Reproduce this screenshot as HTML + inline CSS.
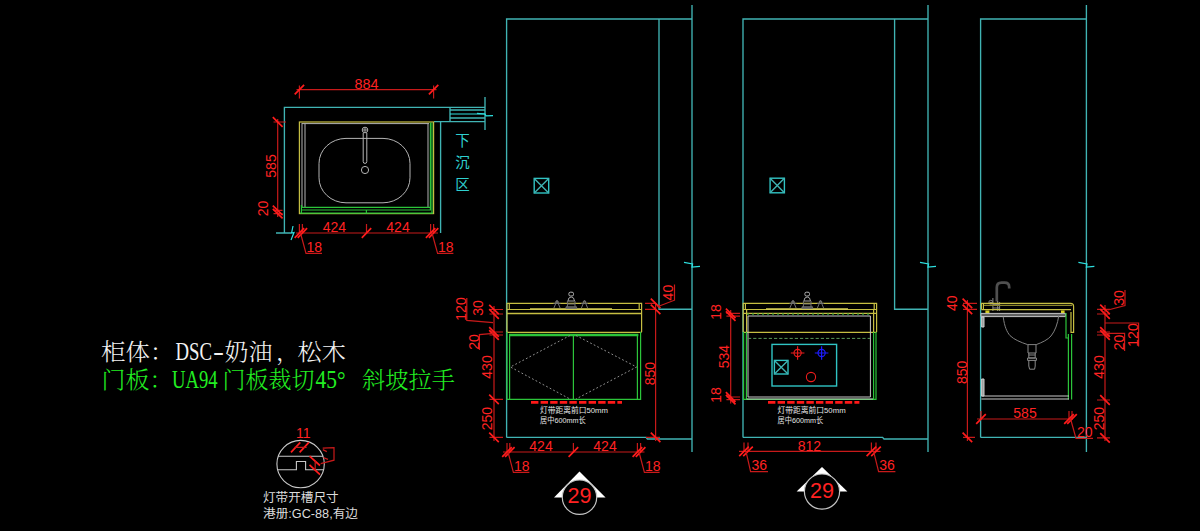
<!DOCTYPE html>
<html lang="zh">
<head>
<meta charset="utf-8">
<title>浴室柜图纸</title>
<style>
html,body{margin:0;padding:0;background:#000;}
body{width:1200px;height:531px;overflow:hidden;}
svg{display:block;width:1200px;height:531px;}
.c{stroke:#40b4b4;stroke-width:1.35;fill:none;}
.cb{stroke:#2ee0e0;stroke-width:1.2;fill:none;}
.c2{stroke:#30c4c4;stroke-width:1.4;fill:none;}
.r{stroke:#c81a1a;stroke-width:1.2;fill:none;}
.rs{stroke:#ff1c1c;stroke-width:1.7;fill:none;}
.y{stroke:#c6be42;stroke-width:1.2;fill:none;}
.g{stroke:#2cc43a;stroke-width:1.2;fill:none;}
.w{stroke:#b4b4b4;stroke-width:1;fill:none;}
.dg{stroke:#6c6c6c;stroke-width:1;fill:none;}
.d{font-family:"Liberation Sans",sans-serif;font-size:14px;fill:#ff2222;}
.n{font-family:"Liberation Sans","Noto Sans CJK SC",sans-serif;font-size:7.6px;fill:#e4e4e4;}
.s{font-family:"Liberation Serif","Noto Serif CJK SC",serif;font-size:23px;font-weight:300;}
.k{font-family:"Liberation Sans","Noto Sans CJK SC",sans-serif;}
</style>
</head>
<body>
<svg width="1200" height="531" viewBox="0 0 1200 531">
<rect x="0" y="0" width="1200" height="531" fill="#000"/>

<!-- ============ PLAN VIEW (top-left) ============ -->
<g id="plan">
  <path class="c" d="M284.4,233 V107.4 H485"/>
  <path class="c" d="M450,110 H485 M450,118 H485 M434,121.6 H485 M450,107.4 V121.6 M485,97 V130 M440.6,121.6 V233 M276,233 H291"/>
  <path class="cb" d="M450,114 H485"/>
  <path class="cb" d="M477,113.4 L485,114 L486,115.8 L493,115.6"/>
  <path class="cb" d="M293,226 L291.6,233 L294,232.6 L291,240"/>
  <!-- counter -->
  <rect class="y" x="299.4" y="122" width="134.2" height="91.6"/>
  <path class="w" d="M302,123.6 H429 M302,123 V207 M305,123.6 V207 M428,123.6 V207"/>
  <path class="g" d="M430.4,122.5 V210 M432,122.5 V213 M301,207.4 H431 M301,210 H431 M301.4,205 V213 M300,213.2 H433"/>
  <path class="g" d="M366.4,210 V213.4"/>
  <!-- bowl -->
  <rect class="w" x="319" y="138.4" width="91" height="64.4" rx="27" ry="25"/>
  <circle class="w" cx="365" cy="170" r="3.6"/>
  <circle class="w" cx="365" cy="130" r="2.8"/>
  <circle class="w" cx="365" cy="130" r="1.2"/>
  <path class="w" d="M363.2,133 V161.6 Q363.2,163.4 365,163.4 Q366.8,163.4 366.8,161.6 V133"/>
  <!-- dims -->
  <path class="r" d="M296.5,89.6 H436.5 M299.4,85.4 V98.4 M433.6,85.4 V98.4"/>
  <path class="rs" d="M294.7,94.4 L304.1,84.8 M428.9,94.4 L438.3,84.8"/>
  <text class="d" x="366.5" y="89" text-anchor="middle" style="font-size:14.4px">884</text>
  <path class="r" d="M277.7,119 V217 M273.5,122 H286 M273.5,210.4 H282.5 M273.5,213.6 H282.5"/>
  <path class="rs" d="M272.8,117.2 L282.6,126.8 M272.8,205.7 L282.6,215.1 M272.8,208.9 L282.6,218.3"/>
  <text class="d" transform="translate(276.4,166) rotate(-90)" text-anchor="middle">585</text>
  <text class="d" transform="translate(267.6,208.4) rotate(-90)" text-anchor="middle">20</text>
  <path class="r" d="M296,233 H438 M299.4,224 V233 M302.4,224 V233 M366.5,224 V233 M430.6,224 V233 M433.6,224 V233"/>
  <path class="rs" d="M294.7,237.8 L304.1,228.2 M297.7,237.8 L307.1,228.2 M361.8,237.8 L371.2,228.2 M425.9,237.8 L435.3,228.2 M428.9,237.8 L438.3,228.2"/>
  <text class="d" x="334.4" y="232" text-anchor="middle">424</text>
  <text class="d" x="398" y="232" text-anchor="middle">424</text>
  <path class="r" d="M300.5,233 L306,253.4 H322 M432,233 L437.6,253.4 H453.4"/>
  <text class="d" x="306.4" y="252">18</text>
  <text class="d" x="438" y="252">18</text>
  <!-- 下沉区 -->
  <text class="k" font-size="14.5" fill="#2fd0d0" text-anchor="middle" x="462.5" y="146.4">下</text>
  <text class="k" font-size="14.5" fill="#2fd0d0" text-anchor="middle" x="462.5" y="167.8">沉</text>
  <text class="k" font-size="14.5" fill="#2fd0d0" text-anchor="middle" x="462.5" y="190.4">区</text>
</g>

<!-- ============ ELEVATION 1 (front, doors) ============ -->
<g id="elev1">
  <path class="c" d="M506.6,437.4 V19 H692 M659,19 V309.2 H692 M692,5 V452 M506.6,437.4 H646 L647.4,439 H692"/>
  <path class="cb" d="M684,262.4 L692.6,264 L692,267 L700,266.4"/>
  <rect class="c2" x="534.2" y="178.4" width="14.5" height="14.6"/>
  <path class="c" d="M534.2,178.4 L548.7,193 M548.7,178.4 L534.2,193"/>
  <!-- counter -->
  <path class="y" d="M507,332 V303.4 H641.6 V332 M507,309.5 H641.6 M509.3,303.4 V309.5 M639.2,303.4 V309.5 M507,332.4 H641.6"/>
  <path class="y" d="M507,313.4 H641.6" style="stroke-width:1.5"/>
  <path d="M530,309 H612" stroke="#d6ce58" stroke-width="1.6" fill="none"/>
  <!-- faucet -->
  <g class="w" style="stroke:#707070">
    <rect x="568.9" y="292.2" width="4.6" height="3.8" rx="1.4" style="stroke:#b8b8b8"/>
    <path d="M567.9,301 Q568.2,297 571.2,297 Q574.2,297 574.5,301 Z" style="stroke:#a0a0a0"/>
    <path d="M567.4,301 V307 M575.0,301 V307 M567.4,304 H575.0"/>
    <path d="M566.0,306.8 H576.6 V308.4 H566.0 Z" style="fill:#505050"/>
    <path d="M553.9,308 L557.0,300.6 L560.1,308 M581.4,308 L584.5,300.6 L587.6,308 M553.5,303.4 H560.5 M581.0,303.4 H588.0"/>
    <circle cx="557.0" cy="302" r="1.3"/><circle cx="584.5" cy="302" r="1.3"/>
  </g>
  <!-- cabinet -->
  <path class="g" d="M509,335 H638.4" style="stroke-width:2.3"/>
  <path class="g" d="M507,332 V399.4 H640.6 V332 M509.6,334.6 V399.4 M637.4,334.6 V399.4 M573.4,334.6 V399.4"/>
  <path class="w" stroke-dasharray="1.8 2.2" d="M570,335.5 L510.4,367 L570,399 M576,335.5 L636.6,367 L576,399" style="stroke:#909090"/>
  <!-- light strip -->
  <path d="M531,402.4 H622" stroke="#ff1818" stroke-width="2.6" stroke-dasharray="7.4 2.2" fill="none"/>
  <text class="n" x="540" y="413" textLength="68" lengthAdjust="spacingAndGlyphs">灯带距离前口50mm</text>
  <text class="n" x="540" y="423.4" textLength="45.6" lengthAdjust="spacingAndGlyphs">居中600mm长</text>
  <!-- left dims -->
  <path class="r" d="M494,306 V441 M489.5,309.5 H503 M489.5,314 H503 M489.5,332 H503 M489.5,335 H503 M489.5,399.4 H503 M489.5,437.4 H503"/>
  <path class="rs" d="M489.2,304.8 L498.8,314.2 M489.2,309.2 L498.8,318.8 M489.2,327.2 L498.8,336.8 M489.2,330.2 L498.8,339.8 M489.2,394.7 L498.8,404.1 M489.2,432.7 L498.8,442.1"/>
  <path class="r" d="M466.8,298 V320.4 L493,322.6 M479.4,350 V334.6 L493.4,333.4"/>
  <text class="d" transform="translate(465.8,309) rotate(-90)" text-anchor="middle">120</text>
  <text class="d" transform="translate(483,308) rotate(-90)" text-anchor="middle">30</text>
  <text class="d" transform="translate(478.6,342) rotate(-90)" text-anchor="middle">20</text>
  <text class="d" transform="translate(492.4,367) rotate(-90)" text-anchor="middle">430</text>
  <text class="d" transform="translate(492,418.6) rotate(-90)" text-anchor="middle">250</text>
  <!-- right dims -->
  <path class="r" d="M655.6,303 V441 M645,303.4 H656 M645,309.4 H656 M646,437.4 H660"/>
  <path class="rs" d="M650.8,298.7 L660.4,308.1 M650.8,304.7 L660.4,314.1 M650.8,432.7 L660.4,442.1"/>
  <path class="r" d="M674.5,284.4 V300.2 L657.4,306.8"/>
  <text class="d" transform="translate(672.8,292.6) rotate(-90)" text-anchor="middle">40</text>
  <text class="d" transform="translate(654.6,373.6) rotate(-90)" text-anchor="middle">850</text>
  <!-- bottom dims -->
  <path class="r" d="M503,452 H644.5 M507,443 V452 M509.8,443 V452 M573.4,443 V452 M637.4,443 V452 M640.6,443 V452"/>
  <path class="rs" d="M502.2,456.8 L511.8,447.2 M505.1,456.8 L514.6,447.2 M568.6,456.8 L578.2,447.2 M632.6,456.8 L642.2,447.2 M635.8,456.8 L645.4,447.2"/>
  <text class="d" x="541" y="451.2" text-anchor="middle">424</text>
  <text class="d" x="605" y="451.2" text-anchor="middle">424</text>
  <path class="r" d="M508,452 L513.4,472.4 H529.4 M639,452 L644.4,472.4 H659.6"/>
  <text class="d" x="514" y="471">18</text>
  <text class="d" x="645" y="471">18</text>
  <!-- view marker -->
  <path d="M554,497.4 L579.5,471.4 L605.6,497.4 Z" fill="#fff"/>
  <circle cx="579.5" cy="497.2" r="17.2" fill="#000" stroke="#c4c4c4" stroke-width="1.2"/>
  <text class="d" x="579.5" y="502.6" text-anchor="middle" style="font-size:22.5px" textLength="24" lengthAdjust="spacingAndGlyphs">29</text>
</g>

<!-- ============ ELEVATION 2 (front, inside) ============ -->
<g id="elev2">
  <path class="c" d="M743,437.4 V19 H928 M894.6,19 V309.2 H928 M928,5 V452 M743,437.4 H882.6 L884,439 H928"/>
  <path class="cb" d="M920,262.4 L928.6,264 L928,267 L936,266.4"/>
  <rect class="c2" x="770.1" y="178.2" width="14.3" height="14.6"/>
  <path class="c" d="M770.1,178.2 L784.4,192.8 M784.4,178.2 L770.1,192.8"/>
  <!-- counter -->
  <path class="y" d="M743.2,332 V303.4 H876.6 V332 M743.2,309.5 H876.6 M745.4,303.4 V309.5 M874.2,303.4 V309.5 M743.2,332.4 H876.6"/>
  <path class="y" d="M743.2,313.4 H876.6" style="stroke-width:1.4"/>
  <path class="g" d="M747,314.2 H871" stroke-dasharray="2 3" style="stroke:#2a9a30"/>
  <path d="M766,309 H848" stroke="#d6ce58" stroke-width="1.6" fill="none"/>
  <g class="w" style="stroke:#707070">
    <rect x="804.9" y="292.2" width="4.6" height="3.8" rx="1.4" style="stroke:#b8b8b8"/>
    <path d="M803.9,301 Q804.2,297 807.2,297 Q810.2,297 810.5,301 Z" style="stroke:#a0a0a0"/>
    <path d="M803.4,301 V307 M811.0,301 V307 M803.4,304 H811.0"/>
    <path d="M802.0,306.8 H812.6 V308.4 H802.0 Z" style="fill:#505050"/>
    <path d="M789.9,308 L793.0,300.6 L796.1,308 M817.4,308 L820.5,300.6 L823.6,308 M789.5,303.4 H796.5 M817.0,303.4 H824.0"/>
    <circle cx="793.0" cy="302" r="1.3"/><circle cx="820.5" cy="302" r="1.3"/>
  </g>
  <!-- carcass -->
  <path class="g" d="M743.6,332 V399.4 H876 V332 M746.4,332 V399.4 M873.6,332 V399.4"/>
  <path class="w" d="M748,397 V316 H870.4 V397 Z M746.6,399 H873" style="stroke:#c8c8c8"/>
  <path class="y" d="M746.6,309.5 V332 M873.6,309.5 V332"/>
  <path d="M748,338.4 H870" stroke="#5a9a5a" stroke-width="1" stroke-dasharray="3.2 2" fill="none"/>
  <rect class="c2" x="772" y="344.4" width="64.6" height="41.6"/>
  <rect class="c2" x="774.4" y="360.4" width="13.6" height="13.6"/>
  <path class="c" d="M774.4,360.4 L788,374 M788,360.4 L774.4,374"/>
  <g stroke="#ee1c1c" stroke-width="1.1" fill="none"><circle cx="797.6" cy="353" r="3.6"/><path d="M790.8,353 H804.4 M797.6,346.2 V359.8"/><circle cx="811" cy="377" r="4.6"/></g>
  <g stroke="#1c1cff" stroke-width="1.2" fill="none"><circle cx="821.6" cy="353" r="3.6"/><path d="M814.8,353 H828.4 M821.6,346.2 V359.8"/></g>
  <!-- light strip -->
  <path d="M768,402.4 H859.4" stroke="#ff1818" stroke-width="2.6" stroke-dasharray="7.4 2.2" fill="none"/>
  <text class="n" x="777.6" y="413" textLength="68" lengthAdjust="spacingAndGlyphs">灯带距离前口50mm</text>
  <text class="n" x="777.6" y="423.4" textLength="45.6" lengthAdjust="spacingAndGlyphs">居中600mm长</text>
  <!-- left dims -->
  <path class="r" d="M730.7,310 V403.4 M726.4,313.4 H740 M726.4,316.2 H740 M726.4,397 H740 M726.4,399.6 H740"/>
  <path class="rs" d="M725.9,308.7 L735.5,318.1 M725.9,311.4 L735.5,320.9 M725.9,392.2 L735.5,401.8 M725.9,394.9 L735.5,404.3"/>
  <text class="d" transform="translate(720.6,312) rotate(-90)" text-anchor="middle">18</text>
  <text class="d" transform="translate(729.4,356.6) rotate(-90)" text-anchor="middle">534</text>
  <text class="d" transform="translate(720.6,395) rotate(-90)" text-anchor="middle">18</text>
  <!-- bottom dims -->
  <path class="r" d="M739,451.4 H880.5 M744,442.4 V451.4 M748,442.4 V451.4 M871.4,442.4 V451.4 M876,442.4 V451.4"/>
  <path class="rs" d="M739.2,456.1 L748.8,446.7 M743.2,456.1 L752.8,446.7 M866.6,456.1 L876.2,446.7 M871.2,456.1 L880.8,446.7"/>
  <text class="d" x="809.4" y="450.8" text-anchor="middle">812</text>
  <path class="r" d="M746,451.4 L750.6,471.6 H768 M873.6,451.4 L878.6,471.6 H895.4"/>
  <text class="d" x="751.4" y="470.2">36</text>
  <text class="d" x="879.2" y="470.2">36</text>
  <!-- view marker -->
  <path d="M796.6,491.6 L822,467 L847.4,491.6 Z" fill="#fff"/>
  <circle cx="822" cy="491.6" r="17.6" fill="#000" stroke="#c4c4c4" stroke-width="1.2"/>
  <text class="d" x="822" y="498" text-anchor="middle" style="font-size:22.5px" textLength="24" lengthAdjust="spacingAndGlyphs">29</text>
</g>

<!-- ============ ELEVATION 3 (side section) ============ -->
<g id="elev3">
  <path class="c" d="M980.6,437.4 V19 H1086.4 M1086.4,5 V452 M980.6,437.4 H1086.4"/>
  <path class="cb" d="M1078.4,262.4 L1087,264 L1086.4,267 L1094.4,266.4"/>
  <!-- faucet -->
  <path d="M996.8,301.6 V287.4 Q996.8,282.6 1001.6,282.6 H1004.6 Q1009.2,282.6 1009.2,287.2 V288.6" stroke="#505050" stroke-width="2.7" fill="none"/>
  <path class="dg" d="M992.9,298 V311 M997.7,301 V311 M992.9,304.4 H999.6 M992.9,308 H999.6 M999.6,302 V311 M989.4,302.4 H993" style="stroke:#8a8a8a"/>
  <circle class="dg" cx="990.8" cy="302.3" r="2" style="stroke:#787878"/>
  <!-- counter -->
  <path class="y" d="M983.4,305.4 H1072" style="stroke:#8a842e"/>
  <path class="y" d="M981.4,309.6 V303.4 H1070.6 Q1073.6,303.4 1073.6,306.4 V332.4 H1071 V312 M981.4,309.6 H1071 M983.4,303.4 V309.6"/>
  <path d="M985.4,310.6 H989.4 V313 H985.4 Z M1061,310.6 H1064.6 V313 H1061 Z" fill="#d8d020"/>
  <path d="M981,313.4 H1065.6 V316.6 H981 Z" fill="#606060" stroke="#c4c4c4" stroke-width="1"/>
  <!-- bowl -->
  <path class="dg" d="M1003.2,316.6 C1004.5,327 1007,332 1010,335.6 C1014,339.6 1021,342.4 1027.6,344.6 H1036.2 C1042,342.6 1048,339.6 1051,336 C1055,331 1057.6,324 1058.8,315.6" style="stroke:#808080"/>
  <path class="dg" d="M1028,344.6 V353 H1036 V344.6 M1028.8,353 V358 H1035.2 V353 M1027.6,358 H1036.4 V360.4 H1027.6 Z M1028.8,360.4 V366 L1029.6,369.2 H1034.6 L1035.2,366 V360.4 M1028.8,355 H1035.2" style="stroke:#8a8a8a"/>
  <!-- carcass -->
  <path class="g" d="M1066,313 V338 H1069 M1068.4,334 V399.4 M1071.6,334 V399.4"/>
  <path class="w" d="M981.4,396 H1069 M981.4,399 H1069" style="stroke:#c8c8c8"/>
  <path class="w" d="M981.6,317 H984 V327 H981.6 Z M981.6,379 H984 V396 H981.6 Z" style="stroke:#d0d0d0;fill:#9a9a9a"/>
  <!-- left dims -->
  <path class="r" d="M967.4,300 V441 M963,303.4 H977 M963,309.4 H977 M963,437.4 H975"/>
  <path class="rs" d="M962.6,298.7 L972.2,308.1 M962.6,304.7 L972.2,314.1 M962.6,432.7 L972.2,442.1"/>
  <text class="d" transform="translate(957,303.2) rotate(-90)" text-anchor="middle">40</text>
  <text class="d" transform="translate(966.6,372.4) rotate(-90)" text-anchor="middle">850</text>
  <!-- right dims -->
  <path class="r" d="M1105,305 V441 M1097,309.4 H1110 M1097,314 H1110 M1097,332 H1110 M1097,335 H1110 M1097,400 H1110 M1097,437.8 H1110"/>
  <path class="rs" d="M1100.2,304.7 L1109.8,314.1 M1100.2,309.2 L1109.8,318.8 M1100.2,327.2 L1109.8,336.8 M1100.2,330.2 L1109.8,339.8 M1100.2,395.2 L1109.8,404.8 M1100.2,433.1 L1109.8,442.6"/>
  <path class="r" d="M1108,310 L1125,305.6 V290 M1105,323 H1138.6 V346.4 M1105,333.4 H1124.6 V351"/>
  <text class="d" transform="translate(1124,298) rotate(-90)" text-anchor="middle">30</text>
  <text class="d" transform="translate(1137.6,335) rotate(-90)" text-anchor="middle">120</text>
  <text class="d" transform="translate(1123.6,342.4) rotate(-90)" text-anchor="middle">20</text>
  <text class="d" transform="translate(1104,367) rotate(-90)" text-anchor="middle">430</text>
  <text class="d" transform="translate(1104,418.6) rotate(-90)" text-anchor="middle">250</text>
  <!-- bottom dims -->
  <path class="r" d="M977,419 H1073 M981,411 V419 M1069,411 V419 M1072,411 V419"/>
  <path class="rs" d="M976.2,423.8 L985.8,414.2 M1064.2,423.8 L1073.8,414.2 M1067.2,423.8 L1076.8,414.2"/>
  <text class="d" x="1025" y="418.2" text-anchor="middle">585</text>
  <path class="r" d="M1070.6,419 L1076,438.4 H1093"/>
  <text class="d" x="1077" y="437">20</text>
</g>

<!-- ============ NOTES ============ -->
<g id="notes">
  <g class="s" fill="#f2f2f2">
    <text x="101" y="360" textLength="73.5" lengthAdjust="spacingAndGlyphs">柜体：</text>
    <text x="175.5" y="360" style="font-size:26px" textLength="36.5" lengthAdjust="spacingAndGlyphs">DSC</text>
    <text x="213" y="360" style="font-size:26px" textLength="11" lengthAdjust="spacingAndGlyphs">-</text>
    <text x="224.6" y="360" textLength="48" lengthAdjust="spacingAndGlyphs">奶油</text>
    <text x="276" y="360">，</text>
    <text x="297.6" y="360" textLength="48.4" lengthAdjust="spacingAndGlyphs">松木</text>
  </g>
  <g class="s" fill="#22ee22">
    <text x="101.6" y="388.4" textLength="72" lengthAdjust="spacingAndGlyphs">门板：</text>
    <text x="172" y="388.4" style="font-size:25px" textLength="45.6" lengthAdjust="spacingAndGlyphs">UA94</text>
    <text x="222.6" y="388.4" textLength="92" lengthAdjust="spacingAndGlyphs">门板裁切</text>
    <text x="315.6" y="388.4" style="font-size:25px" textLength="30" lengthAdjust="spacingAndGlyphs">45°</text>
    <text x="362" y="388.4" textLength="93" lengthAdjust="spacingAndGlyphs">斜坡拉手</text>
  </g>
  <!-- groove detail -->
  <circle class="w" cx="300.6" cy="464.1" r="23.7" style="stroke:#c8c8c8;stroke-width:1.1"/>
  <path class="w" d="M278.2,456.2 H323 M277.6,469.8 H296.4 V461.5 H305.6 V469.8 H323.6" style="stroke:#c8c8c8;stroke-width:1.1"/>
  <path class="rs" d="M291,452.3 L300.3,442.4 M299.6,452.3 L308.9,442.4 M309.5,456.2 L320,465.5 M309.5,464.8 L320,474.7"/>
  <path class="r" d="M294.6,447.3 H306.6 M315.2,460.8 V470 M322.7,448.2 L334,447.6 V460.2 L320.7,463.6 M322.8,449.6 L326.8,451.6 M323.4,457.6 L328,459.4"/>
  <text class="d" x="303.3" y="437.8" text-anchor="middle" style="font-size:14px">11</text>
  <text class="k" x="263" y="501.6" fill="#dcdcdc" style="font-size:12px" textLength="75.6" lengthAdjust="spacingAndGlyphs">灯带开槽尺寸</text>
  <text class="k" x="263" y="517.6" fill="#dcdcdc" style="font-size:12px" textLength="95" lengthAdjust="spacingAndGlyphs">港册:GC-88,有边</text>
</g>

</svg>
</body>
</html>
